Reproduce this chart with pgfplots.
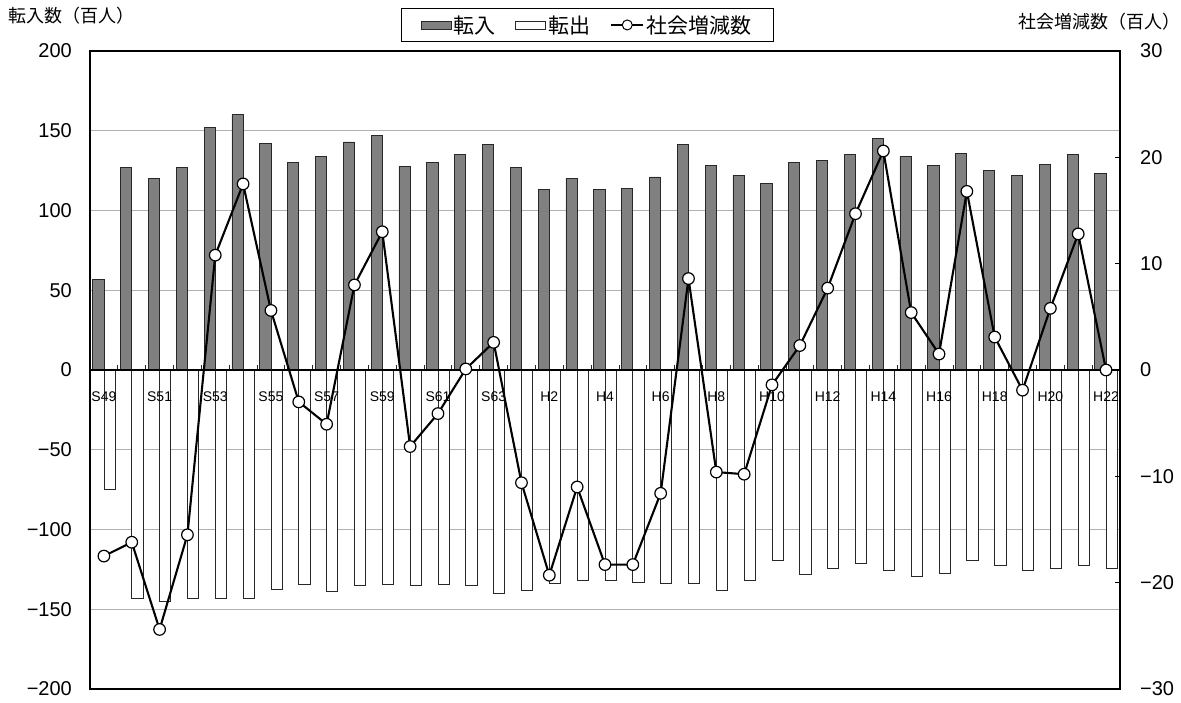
\documentclass[border=0pt]{standalone}
\usepackage{fontspec}
\setmainfont{Liberation Sans}
\newfontfamily\jp{Noto Sans CJK JP}
\usepackage{pgfplots}
\usepackage{pgfplotstable}
\pgfplotsset{compat=1.18}

\definecolor{inFill}{RGB}{128,128,128}
\definecolor{barEdge}{RGB}{40,40,40}
\definecolor{gridGray}{RGB}{176,176,176}

% idx: year index (S49 = 0 ... H22 = 36); in / out in hundreds of persons, net on right axis
\pgfplotstableread{
idx  in     out     net
0    57     -75     -17.5
1    127    -143    -16.2
2    120    -145    -24.4
3    127    -143    -15.5
4    152    -143    10.8
5    160    -143    17.5
6    142    -137.5  5.6
7    130    -134.5  -3.0
8    134    -139    -5.1
9    143    -135    8.0
10   147    -134.5  13.0
11   127.5  -135    -7.2
12   130    -134.5  -4.1
13   135    -135    0.1
14   141.5  -140    2.6
15   127    -138    -10.6
16   113    -133.5  -19.3
17   120    -132    -11.0
18   113    -132    -18.3
19   114    -133    -18.3
20   121    -133.5  -11.6
21   141.5  -133.5  8.6
22   128    -138    -9.6
23   122    -132    -9.8
24   117    -119.5  -1.4
25   130    -128.3  2.3
26   131.5  -124.6  7.7
27   135    -121.2  14.7
28   145    -125.4  20.6
29   134    -129.2  5.4
30   128.5  -127.5  1.5
31   136    -119.5  16.8
32   125    -122.7  3.1
33   122    -125.4  -1.9
34   129    -124.6  5.8
35   135    -122.7  12.8
36   123.5  -124.6  0.0
}\migration

\begin{document}
\begin{tikzpicture}
\useasboundingbox (0pt,0pt) rectangle (1181pt,703pt);

% left axis: in / out bars
\begin{axis}[
  at={(90pt,14pt)}, anchor=south west,
  scale only axis, width=1030pt, height=638pt,
  xmin=-0.5, xmax=36.5, ymin=-200, ymax=200,
  xtick=\empty,
  ytick={-200,-150,...,200},
  yticklabels={−200,−150,−100,−50,0,50,100,150,200},
  major tick length=0pt,
  ymajorgrids, grid style={draw=gridGray, line width=1.2pt},
  axis line style={black, line width=1.5pt},
  yticklabel style={font=\fontsize{20}{20}\selectfont, anchor=east, inner sep=0pt, xshift=-18pt},
  ybar=0pt, bar width=11.2pt,
]
\addplot[fill=inFill, draw=barEdge, line width=0.8pt] table[x=idx, y=in] {\migration};
\addplot[fill=white, draw=barEdge, line width=0.8pt] table[x=idx, y=out] {\migration};
\end{axis}

% right axis: net migration line
\begin{axis}[
  at={(90pt,14pt)}, anchor=south west,
  scale only axis, width=1030pt, height=638pt,
  xmin=-0.5, xmax=36.5, ymin=-30, ymax=30,
  axis y line*=right, axis x line*=middle,
  axis line style={black, line width=1.5pt},
  ytick={-30,-20,...,30},
  yticklabels={−30,−20,−10,0,10,20,30},
  ytick align=inside, xtick align=inside,
  major tick length=5pt, minor tick length=5pt,
  tick style={black, line width=1pt},
  xtick={0,2,...,36},
  xticklabels={S49,S51,S53,S55,S57,S59,S61,S63,H2,H4,H6,H8,H10,H12,H14,H16,H18,H20,H22},
  minor xtick={0.5,1.5,...,35.5},
  major x tick style={draw=none},
  minor x tick style={draw=barEdge, line width=0.8pt},
  xticklabel style={font=\fontsize{14}{14}\selectfont, anchor=north, inner sep=0pt, yshift=-22pt},
  yticklabel style={font=\fontsize{20}{20}\selectfont, anchor=west, inner sep=0pt, xshift=20pt},
  legend style={at={(0.483,1.0408)}, anchor=center, draw=black, line width=1pt,
    font=\jp\fontsize{21}{21}\selectfont, legend columns=-1,
    inner xsep=19pt, inner ysep=7pt,
    nodes={inner xsep=2.5pt, inner ysep=0pt},
    /tikz/every even column/.append style={column sep=17pt}},
  legend cell align=left,
]
\addplot[black, line width=2.1pt, mark=*, mark size=5.8pt,
  mark options={fill=white, draw=black, line width=1.2pt}, forget plot]
  table[x=idx, y=net] {\migration};
\addlegendimage{legend image code/.code={\draw[fill=inFill, draw=barEdge, line width=0.8pt] (0pt,-4pt) rectangle (30pt,4pt);}}
\addlegendentry{転入}
\addlegendimage{legend image code/.code={\draw[fill=white, draw=barEdge, line width=0.8pt] (0pt,-4pt) rectangle (30pt,4pt);}}
\addlegendentry{転出}
\addlegendimage{legend image code/.code={\draw[black, line width=2pt] (0pt,0pt) -- (32pt,0pt); \draw[fill=white, draw=black, line width=1pt] (16pt,0pt) circle (5pt);}}
\addlegendentry{社会増減数}
\end{axis}

\node[anchor=west, inner sep=0pt, font=\jp\fontsize{18}{18}\selectfont] at (8pt,687pt) {転入数（百人）};
\node[anchor=east, inner sep=0pt, font=\jp\fontsize{18}{18}\selectfont] at (1181pt,681pt) {社会増減数（百人）};
\end{tikzpicture}
\end{document}
